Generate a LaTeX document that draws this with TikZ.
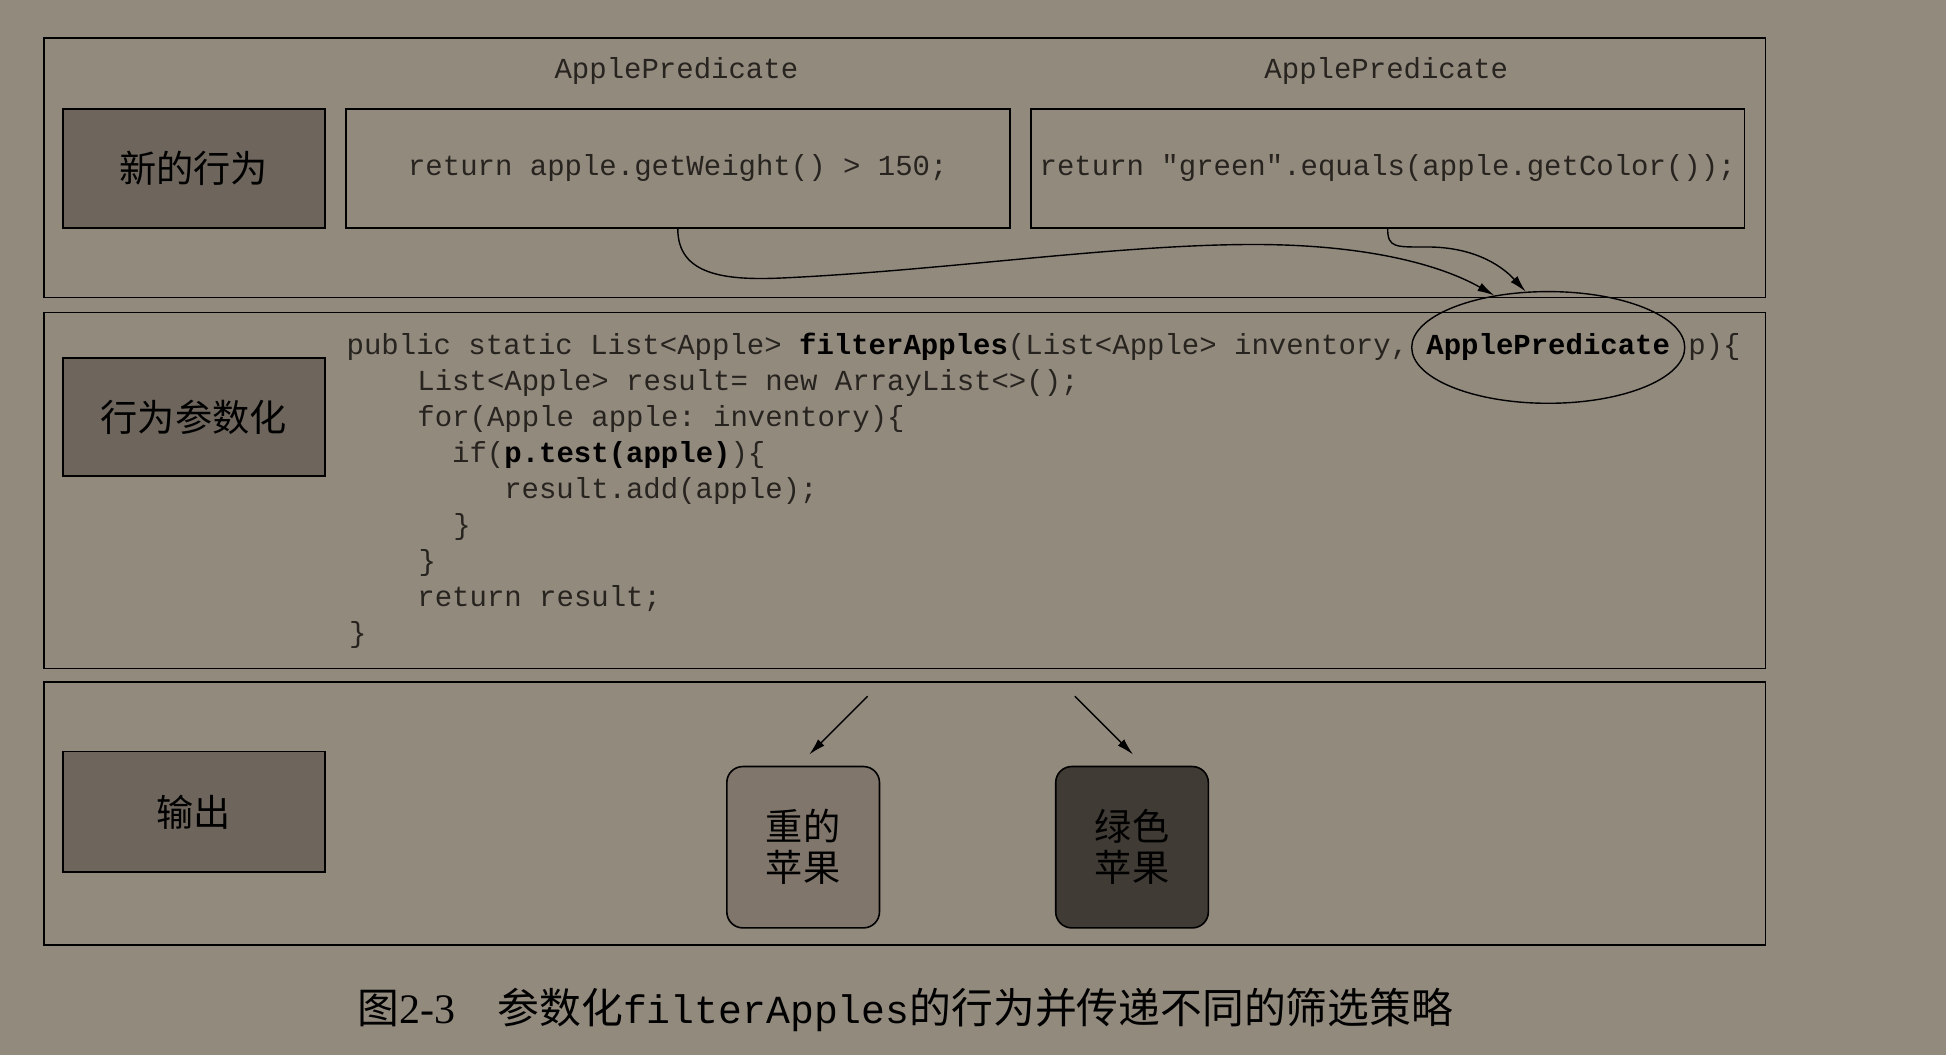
\documentclass[tikz,border=0pt]{standalone}
\usepackage{fontspec}
\setmainfont{Liberation Serif}
\setmonofont{Liberation Mono}
\newfontfamily\cjk{Noto Sans CJK SC}
\usetikzlibrary{shapes.geometric,arrows.meta}
\definecolor{bgc}{HTML}{938A7E}
\definecolor{darkbox}{HTML}{6E665D}
\definecolor{midbox}{HTML}{80766C}
\definecolor{deepbox}{HTML}{413B35}
\definecolor{codec}{HTML}{27231F}
\newdimen\unitpx \unitpx=0.62055pt
\begin{document}
\begin{tikzpicture}[x=0.62055pt,y=-0.62055pt,
  sized/.style 2 args={minimum width=#1*\unitpx, minimum height=#2*\unitpx},
  panel/.style={draw, line width=0.8pt, inner sep=0pt, anchor=north west},
  labbox/.style={draw, line width=0.8pt, fill=darkbox, inner sep=0pt, anchor=north west,
    font=\cjk\fontsize{18.6pt}{22pt}\selectfont, text=black},
  codebox/.style={draw, line width=0.8pt, inner sep=0pt, anchor=north west,
    font=\ttfamily\fontsize{14.5pt}{17pt}\selectfont, text=codec},
  applebox/.style={draw, line width=0.8pt, rounded corners=8pt, inner sep=0pt, anchor=north west,
    align=center, font=\cjk\fontsize{18.6pt}{20.5pt}\selectfont, text=black},
  code/.style={inner sep=0pt, anchor=base west, font=\ttfamily\fontsize{14.5pt}{17pt}\selectfont, text=codec},
  conn/.style={line width=0.7pt, -{Latex[length=8.5pt,width=4.5pt]}}
]
\fill[bgc] (0,0) rectangle (1568,850);
\useasboundingbox (0,0) rectangle (1568,850);

% panels
\node[panel, sized={1387}{209}] (p1) at (35,30) {};
\node[panel, sized={1387}{287}] (p2) at (35,251) {};
\node[panel, sized={1387}{212}] (p3) at (35,549) {};

% labels
\node[labbox, sized={211}{96}] (lab1) at (50,87) {新的行为};
\node[labbox, sized={211}{95}] (lab2) at (50,288) {行为参数化};
\node[labbox, sized={211}{97}] (lab3) at (50,605) {输出};

% top row
\node[code, anchor=center] (t1) at (545,57) {ApplePredicate};
\node[code, anchor=center] (t2) at (1117,57) {ApplePredicate};
\node[codebox, sized={535}{96}] (w) at (278,87) {\raisebox{1.2pt}{return apple.getWeight() > 150;}};
\node[codebox, sized={575}{96}] (g) at (830,87) {\raisebox{1.2pt}{return "green".equals(apple.getColor());}};

% code
\node[code] (c1) at (279,286) {public static List<Apple> \textcolor{black}{\textbf{filterApples}}(List<Apple> inventory,};
\node[code, xshift=8.7pt] (ap) at (c1.base east) {\textcolor{black}{\textbf{ApplePredicate}}};
\node[code, xshift=8.7pt] (c1b) at (ap.base east) {p)\{};
\node[draw, ellipse, line width=0.7pt, sized={220}{90}, inner sep=0pt] (ell) at (ap.center) {};
\node[code] (c2) at (336,315) {List<Apple> result= new ArrayList<>();};
\node[code] (c3) at (336,344) {for(Apple apple: inventory)\{};
\node[code] (c4) at (364,373) {if(\textcolor{black}{\textbf{p.test(apple)}})\{};
\node[code] (c5) at (406,402) {result.add(apple);};
\node[code] (c6) at (365,431) {\}};
\node[code] (c7) at (337,460) {\}};
\node[code] (c8) at (336,489) {return result;};
\node[code] (c9) at (281,518) {\}};

% connectors top
\draw[conn] (w.south) .. controls (546,222) and (585,226) .. (630,224)
  .. controls (760,218) and (900,197) .. (1010,197)
  .. controls (1100,197) and (1160,213) .. (ell.136);
\draw[conn] (g.south) .. controls (1118,200) and (1125,199) .. (1150,199)
  .. controls (1185,199) and (1208,212) .. (ell.112);

% output apples
\node[applebox, fill=midbox, sized={123}{130}] (heavy) at (585,617) {重的\\苹果};
\node[applebox, fill=deepbox, sized={123}{130}] (green) at (850,617) {绿色\\苹果};
\coordinate (s1) at (699,561);
\coordinate (e1) at (652,608);
\coordinate (s2) at (866,561);
\coordinate (e2) at (913,608);
\draw[conn] (s1) -- (e1);
\draw[conn] (s2) -- (e2);

% caption
\node[inner sep=0pt, anchor=base west, text=black] (cap) at (288,825)
  {{\cjk\fontsize{20.9pt}{24pt}\selectfont 图}{\fontsize{21pt}{24pt}\selectfont 2-3}\hspace{21pt}{\cjk\fontsize{20.9pt}{24pt}\selectfont 参数化}{\ttfamily\fontsize{19.9pt}{24pt}\selectfont filterApples}{\cjk\fontsize{20.9pt}{24pt}\selectfont 的行为并传递不同的筛选策略}};
\end{tikzpicture}
\end{document}
